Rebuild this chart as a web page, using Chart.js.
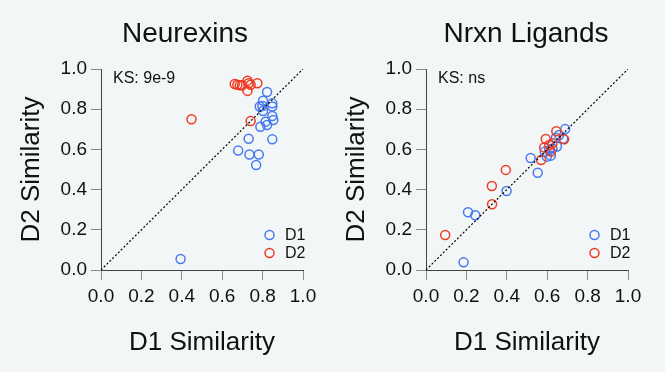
<!DOCTYPE html>
<html>
<head>
<meta charset="utf-8">
<script src="https://cdn.jsdelivr.net/npm/chart.js@4/dist/chart.umd.min.js"></script>
<style>
  html, body { margin: 0; padding: 0; background: #f3f6f6; }
  body { width: 665px; height: 372px; position: relative; overflow: hidden; }
  canvas { position: absolute; top: 0; }
  #c1 { left: 0; }
  #c2 { left: 325px; }
</style>
</head>
<body>
<canvas id="c1" width="330" height="372"></canvas>
<canvas id="c2" width="330" height="372"></canvas>
<script>
// ---- Data ----
const panelTitles = ["Neurexins", "Nrxn Ligands"];
const ksLabels = ["KS: 9e-9", "KS: ns"];
const seriesNames = ["D1", "D2"];
const tickValues = [0.0, 0.2, 0.4, 0.6, 0.8, 1.0];
const xAxisTitle = "D1 Similarity";
const yAxisTitle = "D2 Similarity";

// Neurexins
const neurexD1x = [0.394, 0.822, 0.802, 0.848, 0.848, 0.786, 0.799, 0.802, 0.848, 0.853, 0.815, 0.822, 0.789, 0.731, 0.848, 0.679, 0.735, 0.781, 0.768];
const neurexD1y = [0.055, 0.886, 0.842, 0.829, 0.813, 0.813, 0.816, 0.791, 0.766, 0.746, 0.738, 0.721, 0.713, 0.653, 0.650, 0.594, 0.575, 0.575, 0.522];
const neurexD2x = [0.662, 0.675, 0.687, 0.698, 0.725, 0.731, 0.741, 0.774, 0.725, 0.741, 0.448];
const neurexD2y = [0.925, 0.922, 0.919, 0.919, 0.942, 0.929, 0.922, 0.929, 0.891, 0.741, 0.750];

// Nrxn ligands
const ligandD1x = [0.186, 0.208, 0.244, 0.399, 0.518, 0.553, 0.588, 0.598, 0.618, 0.610, 0.626, 0.648, 0.643, 0.659, 0.689, 0.679];
const ligandD1y = [0.038, 0.287, 0.272, 0.393, 0.557, 0.484, 0.589, 0.564, 0.569, 0.597, 0.605, 0.614, 0.658, 0.672, 0.701, 0.653];
const ligandD2x = [0.095, 0.327, 0.326, 0.395, 0.570, 0.593, 0.585, 0.610, 0.618, 0.626, 0.645, 0.684];
const ligandD2y = [0.174, 0.327, 0.418, 0.498, 0.547, 0.652, 0.610, 0.622, 0.589, 0.630, 0.690, 0.650];

const diagX = [0, 1];
const diagY = [0, 1];

// ---- Styling ----
const FONT = '"Liberation Sans", Arial, Helvetica, sans-serif';
const BLUE = '#4679f0';
const RED = '#ef3b24';
const TEXT = '#111111';

function pts(xs, ys) { return xs.map((x, i) => ({ x: x, y: ys[i] })); }

const panelText = {
  id: 'panelText',
  afterDraw(chart, args, opts) {
    const ctx = chart.ctx;
    const a = chart.chartArea;
    ctx.save();
    ctx.fillStyle = TEXT;
    ctx.font = '28px ' + FONT;
    ctx.textAlign = 'center';
    ctx.textBaseline = 'alphabetic';
    ctx.fillText(opts.title, opts.titleX, 42);
    ctx.font = '16px ' + FONT;
    ctx.textAlign = 'left';
    ctx.fillText(opts.ks, a.left + 12, 83);
    // legend
    let k = 0;
    chart.data.datasets.forEach((ds) => {
      if (!ds.inLegend) return;
      const y = a.bottom - 35 + k * 18;
      ctx.beginPath();
      ctx.arc(a.right - 33.5, y, 4.5, 0, Math.PI * 2);
      ctx.lineWidth = 1.5;
      ctx.strokeStyle = ds.borderColor;
      ctx.stroke();
      ctx.fillStyle = TEXT;
      ctx.font = '16px ' + FONT;
      ctx.textBaseline = 'middle';
      ctx.fillText(ds.label, a.right - 18, y + 0.5);
      k++;
    });
    ctx.restore();
  }
};

function makeChart(id, d1, d2, title, titleX, ks) {
  const axisCommon = {
    type: 'linear',
    min: 0, max: 1,
    afterBuildTicks: (s) => { s.ticks = tickValues.map(v => ({ value: v })); },
    grid: { drawOnChartArea: false, drawTicks: true, tickLength: 10, color: '#8a8a8a', lineWidth: 1 },
    border: { display: true, color: '#444444', width: 1 },
  };
  return new Chart(document.getElementById(id), {
    type: 'scatter',
    data: {
      datasets: [
        { label: seriesNames[0], data: d1, inLegend: true, borderColor: BLUE, backgroundColor: 'rgba(0,0,0,0)', pointRadius: 4.5, pointBorderWidth: 1.5, pointHoverRadius: 4.5, order: 2 },
        { label: seriesNames[1], data: d2, inLegend: true, borderColor: RED, backgroundColor: 'rgba(0,0,0,0)', pointRadius: 4.5, pointBorderWidth: 1.5, pointHoverRadius: 4.5, order: 1 },
        { label: 'diag', data: pts(diagX, diagY), showLine: true, borderColor: '#000000', borderWidth: 1.2, borderDash: [2, 2], pointRadius: 0, order: 0 }
      ]
    },
    options: {
      responsive: false,
      animation: false,
      events: [],
      layout: { padding: { left: 0, right: 27, top: 69, bottom: 0 } },
      plugins: {
        legend: { display: false },
        tooltip: { enabled: false },
        panelText: { title: title, titleX: titleX, ks: ks }
      },
      scales: {
        x: Object.assign({}, axisCommon, {
          position: 'bottom',
          afterFit: (s) => { s.height = 102; },
          ticks: { font: { family: FONT, size: 19 }, color: TEXT, padding: 5, maxRotation: 0, autoSkip: false, callback: (v) => Number(v).toFixed(1) },
          title: { display: true, text: xAxisTitle, font: { family: FONT, size: 26 }, color: TEXT, padding: { top: 0, bottom: 14 } }
        }),
        y: Object.assign({}, axisCommon, {
          position: 'left',
          afterFit: (s) => { s.width = 101; },
          ticks: { font: { family: FONT, size: 19 }, color: TEXT, padding: 4, autoSkip: false, callback: (v) => Number(v).toFixed(1) },
          title: { display: true, text: yAxisTitle, font: { family: FONT, size: 26 }, color: TEXT, padding: { top: 16, bottom: 0 } }
        })
      }
    },
    plugins: [panelText]
  });
}

makeChart('c1', pts(neurexD1x, neurexD1y), pts(neurexD2x, neurexD2y), panelTitles[0], 185, ksLabels[0]);
makeChart('c2', pts(ligandD1x, ligandD1y), pts(ligandD2x, ligandD2y), panelTitles[1], 201, ksLabels[1]);
</script>
</body>
</html>
